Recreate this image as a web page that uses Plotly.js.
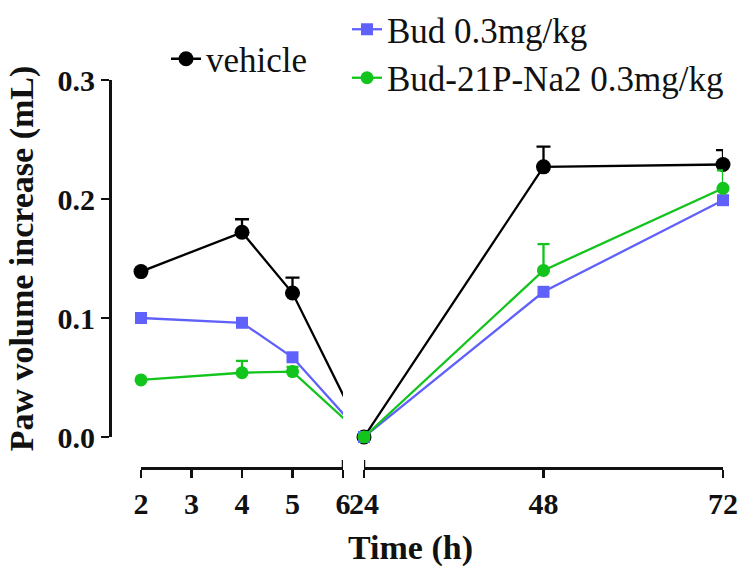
<!DOCTYPE html>
<html>
<head>
<meta charset="utf-8">
<script src="https://cdn.plot.ly/plotly-3.0.1.min.js"></script>
<style>html,body{margin:0;padding:0;background:#fff}#chart{width:751px;height:578px}</style>
</head>
<body>
<div id="chart"></div>
<script>
// ---- data ----
const hours = [2, 4, 5, 24, 48, 72];
const vehicle = [0.139, 0.172, 0.121, 0.000, 0.227, 0.229];
const vehicleErr = [0.000, 0.011, 0.013, 0.000, 0.017, 0.012];
const bud = [0.100, 0.096, 0.067, 0.000, 0.122, 0.199];
const budP = [0.048, 0.054, 0.055, 0.000, 0.140, 0.209];
const budPErr = [0.000, 0.010, 0.004, 0.000, 0.022, 0.015];
const leftTicks = [2, 3, 4, 5, 6];
const rightTicks = [24, 48, 72];
const yTicks = [0, 0.1, 0.2, 0.3];
const names = ['vehicle', 'Bud 0.3mg/kg', 'Bud-21P-Na2 0.3mg/kg'];
const colors = ['#000000', '#6060fa', '#12c41c'];

// ---- broken-axis geometry (pixels) ----
const W = 751, H = 578;
const LEFT = [141, 343], RIGHT = [364, 723];
const yBot = 437, yTop = 80, xAxisY = 468, yAxisX = 110;
const unit = (LEFT[1] - LEFT[0]) / (6 - 2);
const kRight = (RIGHT[1] - RIGHT[0]) / (72 - 24) / unit;
const gap = (RIGHT[0] - LEFT[1]) / unit;
function pos(h) { return h <= 6 ? h : 6 + gap + (h - 24) * kRight; }

const FONT = '"Liberation Serif", "Times New Roman", serif';

function series(name, vals, err, color, symbol, size, legend, capw) {
  const base = {
    type: 'scatter', mode: 'lines+markers',
    x: hours.map(pos), y: vals, name: name,
    line: {color: color, width: 2.3},
    marker: {color: color, symbol: symbol, size: size},
    cliponaxis: false, legend: legend, hoverinfo: 'skip'
  };
  if (err) {
    base.error_y = {type: 'data', symmetric: false, array: err,
      arrayminus: err.map(() => 0), color: color, thickness: 2.3, width: capw};
  }
  return [
    Object.assign({}, base, {xaxis: 'x', yaxis: 'y', showlegend: true}),
    Object.assign({}, base, {xaxis: 'x2', yaxis: 'y', showlegend: false})
  ];
}

const data = [].concat(
  series(names[0], vehicle, vehicleErr, colors[0], 'circle', 15, 'legend', 7),
  series(names[1], bud, null, colors[1], 'square', 12, 'legend2', 6),
  series(names[2], budP, budPErr, colors[2], 'circle', 13, 'legend2', 6)
);

const axisStyle = {
  anchor: 'free', showline: true, linecolor: '#111', linewidth: 2.5,
  ticks: 'outside', ticklen: 8, tickwidth: 2.5, tickcolor: '#111',
  showgrid: false, zeroline: false, fixedrange: true,
  tickfont: {family: FONT, size: 30, weight: 'bold', color: '#111'}
};

const axisLineY = (H - xAxisY) / H;
const breakMarkY1 = (H - xAxisY + 8) / H;

const layout = {
  width: W, height: H,
  margin: {l: 0, r: 0, t: 0, b: 0},
  paper_bgcolor: '#ffffff', plot_bgcolor: 'rgba(0,0,0,0)',
  font: {family: FONT, color: '#111', size: 30},
  showlegend: true,
  xaxis: Object.assign({}, axisStyle, {
    domain: [LEFT[0] / W, LEFT[1] / W], range: [pos(2), pos(6)],
    position: axisLineY,
    tickvals: leftTicks.map(pos), ticktext: leftTicks.map(String)
  }),
  xaxis2: Object.assign({}, axisStyle, {
    domain: [RIGHT[0] / W, RIGHT[1] / W], range: [pos(24), pos(72)],
    position: axisLineY,
    tickvals: rightTicks.map(pos), ticktext: rightTicks.map(String)
  }),
  yaxis: Object.assign({}, axisStyle, {
    domain: [(H - yBot) / H, (H - yTop) / H], range: [0, 0.3],
    position: yAxisX / W,
    tickvals: yTicks, tickformat: '.1f',
    title: {text: 'Paw volume increase (mL)', standoff: 12,
      font: {family: FONT, size: 34, weight: 'bold', color: '#111'}}
  }),
  shapes: [
    {type: 'line', xref: 'x', yref: 'paper', x0: pos(6), x1: pos(6), y0: axisLineY, y1: breakMarkY1,
      line: {color: '#111', width: 2.5}},
    {type: 'line', xref: 'x2', yref: 'paper', x0: pos(24), x1: pos(24), y0: axisLineY, y1: breakMarkY1,
      line: {color: '#111', width: 2.5}}
  ],
  legend: {x: 166 / W, y: (H - 59) / H, xanchor: 'left', yanchor: 'middle',
    bgcolor: 'rgba(0,0,0,0)', borderwidth: 0, tracegroupgap: 0,
    font: {family: FONT, size: 35, color: '#111'}},
  legend2: {x: 347 / W, y: (H - 53.5) / H, xanchor: 'left', yanchor: 'middle',
    bgcolor: 'rgba(0,0,0,0)', borderwidth: 0, tracegroupgap: 0,
    font: {family: FONT, size: 35, color: '#111'}},
  annotations: [{
    text: 'Time (h)', xref: 'paper', yref: 'paper', x: 410 / W, y: (H - 548) / H,
    xanchor: 'center', yanchor: 'middle', showarrow: false,
    font: {family: FONT, size: 34, weight: 'bold', color: '#111'}
  }],
  hovermode: false
};

Plotly.newPlot('chart', data, layout, {displayModeBar: false, staticPlot: true});
</script>
</body>
</html>
